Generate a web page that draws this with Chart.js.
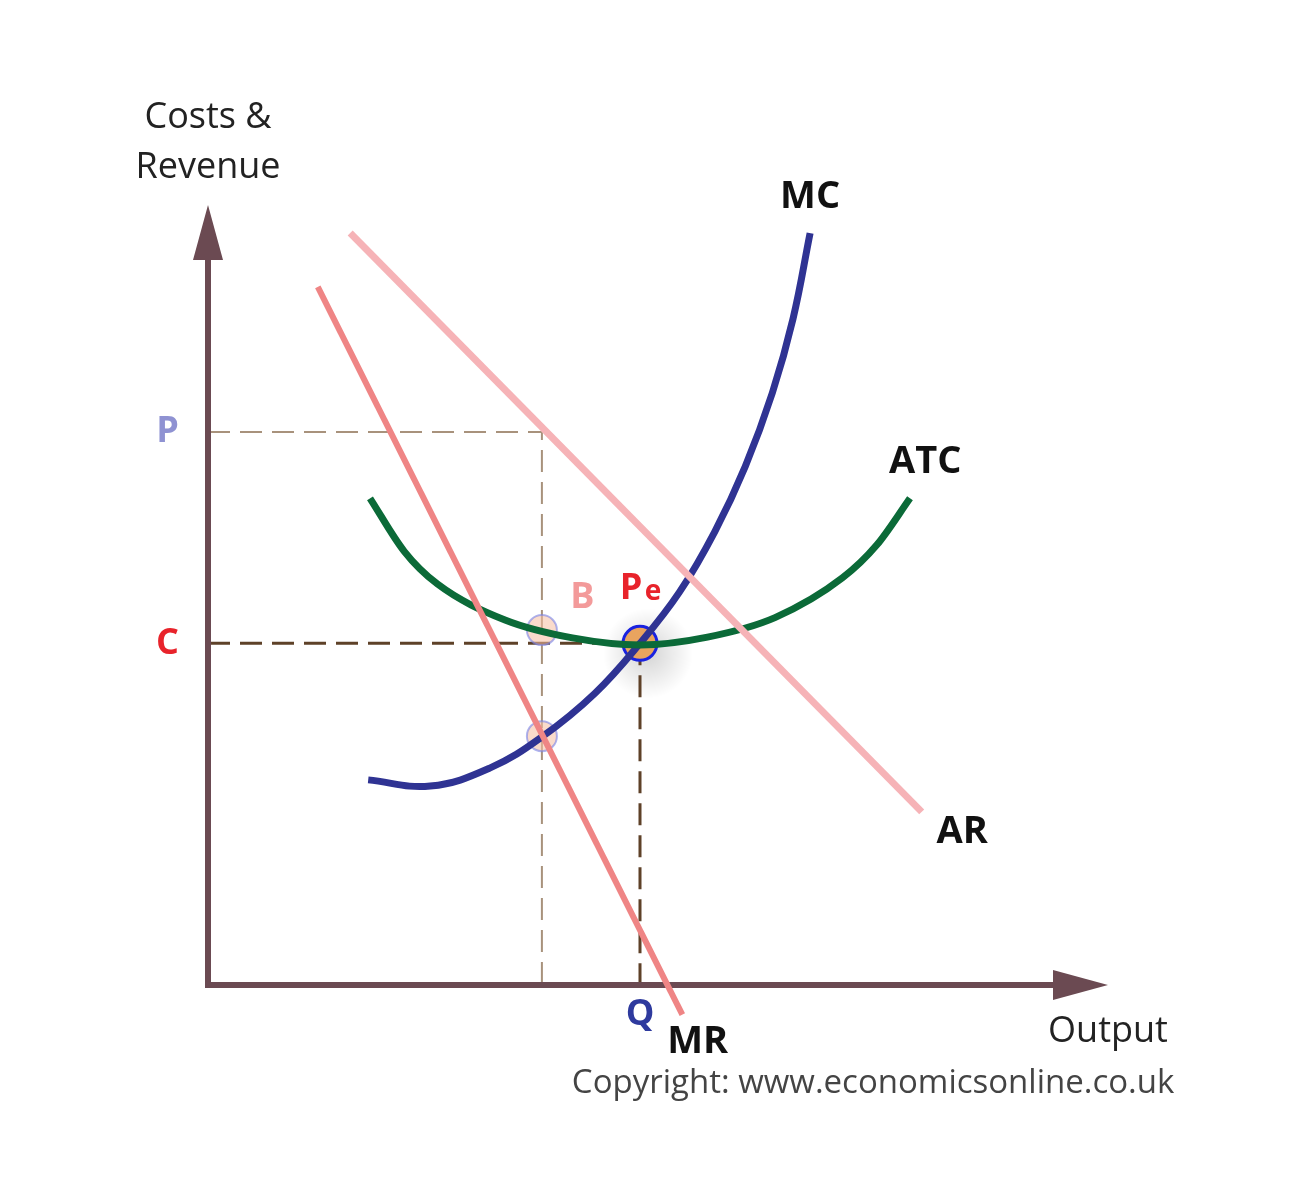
<!DOCTYPE html>
<html>
<head>
<meta charset="utf-8">
<script src="https://cdn.jsdelivr.net/npm/chart.js@4"></script>
<style>
  body { margin: 0; background: #fff; }
  #wrap { width: 1309px; height: 1200px; }
</style>
</head>
<body>
<div id="wrap"><canvas id="myChart" width="1309" height="1200"></canvas></div>
<script>
// curves, in output / price units
const mcX = [1.78, 2.47, 3.13, 3.71, 4.30, 4.80, 5.24, 5.63, 5.97, 6.27, 6.50, 6.69];
const mcY = [2.63, 2.55, 2.78, 3.18, 3.74, 4.38, 5.04, 5.81, 6.65, 7.59, 8.54, 9.64];
const atcX = [1.80, 2.18, 2.55, 3.30, 4.05, 4.80, 5.55, 6.30, 7.05, 7.43, 7.80];
const atcY = [6.24, 5.56, 5.14, 4.68, 4.45, 4.36, 4.46, 4.71, 5.22, 5.64, 6.24];
const arX = [1.58, 7.93];
const arY = [9.64, 2.22];
const mrX = [1.22, 5.27];
const mrY = [8.95, -0.38];

// levels
const priceP = 7.09;
const costC = 4.38;
const qtyQ = 4.80;
const qtyB = 3.71;
const pointB = [3.71, 4.55];
const pointMR = [3.71, 3.19];

const toPts = (xs, ys) => xs.map((x, i) => ({x: x, y: ys[i]}));

// text labels drawn on top
const labels = [
    {text: 'Costs &', x: 0, y: 11.12, color: '#222', font: '36px "Open Sans"'},
    {text: 'Revenue', x: 0, y: 10.48, color: '#222', font: '36px "Open Sans"'},
    {text: 'MC', x: 6.69, y: 10.1, color: '#111', font: 'bold 38px "Open Sans"'},
    {text: 'ATC', x: 7.97, y: 6.7, color: '#111', font: 'bold 38px "Open Sans"'},
    {text: 'AR', x: 8.38, y: 1.96, color: '#111', font: 'bold 38px "Open Sans"'},
    {text: 'MR', x: 5.44, y: -0.73, color: '#111', font: 'bold 38px "Open Sans"'},
    {text: 'Q', x: 4.80, y: -0.38, color: '#2e3a9e', font: 'bold 36px "Open Sans"'},
    {text: 'P', x: -0.45, y: 7.09, color: '#8f92d2', font: 'bold 36px "Open Sans"'},
    {text: 'C', x: -0.45, y: 4.38, color: '#e8232b', font: 'bold 36px "Open Sans"'},
    {text: 'B', x: 4.16, y: 4.96, color: '#f39a9a', font: 'bold 36px "Open Sans"'},
    {text: 'Output', x: 10.0, y: -0.6, color: '#222', font: '36px "Open Sans"'},
    {text: 'Copyright: www.economicsonline.co.uk', x: 7.39, y: -1.27, color: '#444', font: '33px "Open Sans"'}
];

const axisColor = '#6b4a52';

const extras = {
    id: 'extras',
    beforeDatasetsDraw(chart) {
        const ctx = chart.ctx;
        const xs = chart.scales.x, ys = chart.scales.y;
        const x0 = xs.getPixelForValue(0), y0 = ys.getPixelForValue(0);
        ctx.save();
        // soft shadow under the equilibrium point
        const ex = xs.getPixelForValue(qtyQ) + 8, ey = ys.getPixelForValue(costC) + 10;
        const g = ctx.createRadialGradient(ex, ey, 5, ex, ey, 45);
        g.addColorStop(0, 'rgba(0,0,0,0.15)');
        g.addColorStop(1, 'rgba(0,0,0,0)');
        ctx.fillStyle = g;
        ctx.fillRect(ex - 50, ey - 50, 100, 100);
        // dashed guides
        ctx.setLineDash([22, 10]);
        ctx.strokeStyle = '#a8927c';
        ctx.lineWidth = 2;
        ctx.beginPath();
        ctx.moveTo(x0, ys.getPixelForValue(priceP));
        ctx.lineTo(xs.getPixelForValue(qtyB), ys.getPixelForValue(priceP));
        ctx.lineTo(xs.getPixelForValue(qtyB), y0);
        ctx.stroke();
        ctx.strokeStyle = '#5e4128';
        ctx.lineWidth = 3;
        ctx.beginPath();
        ctx.moveTo(x0, ys.getPixelForValue(costC));
        ctx.lineTo(xs.getPixelForValue(qtyQ), ys.getPixelForValue(costC));
        ctx.moveTo(xs.getPixelForValue(qtyQ), ys.getPixelForValue(costC));
        ctx.lineTo(xs.getPixelForValue(qtyQ), y0);
        ctx.stroke();
        ctx.setLineDash([]);
        // axes with arrows
        const xEnd = xs.getPixelForValue(10), yEnd = ys.getPixelForValue(10);
        ctx.strokeStyle = axisColor;
        ctx.fillStyle = axisColor;
        ctx.lineWidth = 6;
        ctx.beginPath();
        ctx.moveTo(x0, yEnd + 40);
        ctx.lineTo(x0, y0);
        ctx.lineTo(xEnd - 40, y0);
        ctx.stroke();
        ctx.beginPath();
        ctx.moveTo(x0, yEnd);
        ctx.lineTo(x0 - 15, yEnd + 55);
        ctx.lineTo(x0 + 15, yEnd + 55);
        ctx.closePath();
        ctx.fill();
        ctx.beginPath();
        ctx.moveTo(xEnd, y0);
        ctx.lineTo(xEnd - 55, y0 - 15);
        ctx.lineTo(xEnd - 55, y0 + 15);
        ctx.closePath();
        ctx.fill();
        ctx.restore();
    },
    afterDatasetsDraw(chart) {
        const ctx = chart.ctx;
        const xs = chart.scales.x, ys = chart.scales.y;
        ctx.save();
        ctx.textAlign = 'center';
        ctx.textBaseline = 'middle';
        labels.forEach(l => {
            ctx.font = l.font;
            ctx.fillStyle = l.color;
            ctx.fillText(l.text, xs.getPixelForValue(l.x), ys.getPixelForValue(l.y));
        });
        // Pe with small e
        const px = xs.getPixelForValue(qtyQ), py = ys.getPixelForValue(costC);
        ctx.fillStyle = '#e8232b';
        ctx.font = 'bold 36px "Open Sans"';
        ctx.fillText('P', px - 9, py - 55);
        ctx.font = 'bold 28px "Open Sans"';
        ctx.fillText('e', px + 13, py - 51);
        ctx.restore();
    }
};

new Chart(document.getElementById('myChart'), {
    type: 'scatter',
    data: {
        datasets: [
            {label: 'AR', data: toPts(arX, arY), showLine: true, borderColor: '#f6b3b7', borderWidth: 7, pointRadius: 0, clip: false},
            {label: 'MR', data: toPts(mrX, mrY), showLine: true, borderColor: '#ef8585', borderWidth: 6, pointRadius: 0, clip: false},
            {label: 'ATC', data: toPts(atcX, atcY), showLine: true, borderColor: '#0b6a38', borderWidth: 7, pointRadius: 0, cubicInterpolationMode: 'monotone', clip: false},
            {label: 'MC', data: toPts(mcX, mcY), showLine: true, borderColor: '#2f3393', borderWidth: 7, pointRadius: 0, tension: 0.4, clip: false},
            {label: 'B', data: [{x: pointB[0], y: pointB[1]}, {x: pointMR[0], y: pointMR[1]}], showLine: false, pointRadius: 15, backgroundColor: 'rgba(245,190,160,0.55)', borderColor: 'rgba(120,130,230,0.6)', borderWidth: 2, clip: false},
            {label: 'Pe', data: [{x: qtyQ, y: costC}], showLine: false, pointRadius: 17, backgroundColor: '#e9a45f', borderColor: '#1a22e0', borderWidth: 3, clip: false}
        ]
    },
    options: {
        responsive: false,
        animation: false,
        layout: {padding: {left: 208, right: 201, top: 205, bottom: 215}},
        plugins: {legend: {display: false}, tooltip: {enabled: false}},
        scales: {
            x: {type: 'linear', min: 0, max: 10, display: false},
            y: {type: 'linear', min: 0, max: 10, display: false}
        }
    },
    plugins: [extras]
});
</script>
</body>
</html>
